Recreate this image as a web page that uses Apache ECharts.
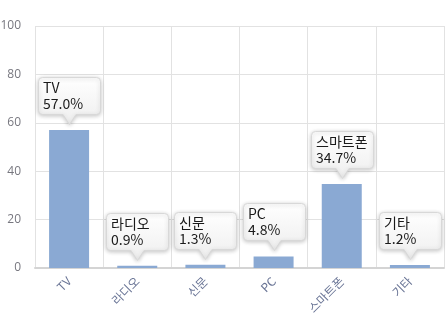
<!DOCTYPE html>
<html><head><meta charset="utf-8">
<script src="https://cdn.jsdelivr.net/npm/echarts@6/dist/echarts.min.js"></script>
<style>html,body{margin:0;padding:0;background:#fff}#c{width:448px;height:318px}</style>
</head><body><div id="c"></div>
<script>
const categories = ['TV', '라디오', '신문', 'PC', '스마트폰', '기타'];
const values = [57.0, 0.9, 1.3, 4.8, 34.7, 1.2];
const yTicks = [0, 20, 40, 60, 80, 100];

const chart = echarts.init(document.getElementById('c'), null, {renderer: 'canvas'});
const BOX_W = 62, BOX_H = 37, ARROW_H = 10, ARROW_W = 13, GAP = 6, R = 4;

function calloutPath(cx, tipY) {
  const bottom = tipY - ARROW_H;
  const top = bottom - BOX_H;
  const l = cx - BOX_W / 2, r = cx + BOX_W / 2;
  const aw = ARROW_W / 2;
  return 'M' + (l + R) + ' ' + top +
    ' L' + (r - R) + ' ' + top +
    ' Q' + r + ' ' + top + ' ' + r + ' ' + (top + R) +
    ' L' + r + ' ' + (bottom - R) +
    ' Q' + r + ' ' + bottom + ' ' + (r - R) + ' ' + bottom +
    ' L' + (cx + aw) + ' ' + bottom +
    ' L' + cx + ' ' + tipY +
    ' L' + (cx - aw) + ' ' + bottom +
    ' L' + (l + R) + ' ' + bottom +
    ' Q' + l + ' ' + bottom + ' ' + l + ' ' + (bottom - R) +
    ' L' + l + ' ' + (top + R) +
    ' Q' + l + ' ' + top + ' ' + (l + R) + ' ' + top + ' Z';
}

chart.setOption({
  animation: false,
  grid: {left: 35, right: 4, top: 26, bottom: 50, outerBoundsMode: 'none', containLabel: false},
  xAxis: {
    type: 'category',
    data: categories,
    axisTick: {show: false},
    axisLine: {lineStyle: {color: '#d4d4d4', width: 2}},
    splitLine: {show: true, lineStyle: {color: '#e2e2e2'}},
    axisLabel: {rotate: 45, color: '#6a7596', fontSize: 12, margin: 11, fontFamily: 'Noto Sans CJK KR'}
  },
  yAxis: {
    type: 'value',
    min: yTicks[0], max: yTicks[yTicks.length - 1], interval: 20,
    axisLine: {show: false},
    axisTick: {show: false},
    splitLine: {lineStyle: {color: '#e2e2e2'}},
    axisLabel: {color: '#77777f', fontSize: 12, margin: 14, fontFamily: 'Open Sans'}
  },
  series: [
    {
      type: 'bar',
      data: values,
      barWidth: 40,
      itemStyle: {color: '#8aa9d3'}
    },
    {
      type: 'custom',
      data: values.map((v, i) => [i, v]),
      z: 10,
      renderItem: function (params, api) {
        const idx = api.value(0);
        const p = api.coord([idx, api.value(1)]);
        const cx = Math.round(p[0]);
        const tipY = Math.round(p[1]) - GAP;
        const top = tipY - ARROW_H - BOX_H;
        const l = cx - BOX_W / 2;
        return {
          type: 'group',
          children: [
            {
              type: 'path',
              shape: {pathData: calloutPath(cx + 0.5, tipY + 0.5)},
              style: {
                fill: new echarts.graphic.LinearGradient(0, 0, 0, 1, [
                  {offset: 0, color: '#ffffff'}, {offset: 1, color: '#eeeeee'}
                ]),
                stroke: '#d8d8d8',
                lineWidth: 1,
                shadowBlur: 4,
                shadowOffsetY: 1,
                shadowColor: 'rgba(0,0,0,0.22)'
              }
            },
            {
              type: 'text',
              style: {
                text: categories[idx] + '\n' + api.value(1).toFixed(1) + '%',
                x: l + 5,
                y: top + 3,
                fill: '#1a1a1a',
                fontSize: 14,
                fontFamily: 'Noto Sans CJK KR',
                lineHeight: 16,
                verticalAlign: 'top'
              }
            }
          ]
        };
      }
    }
  ]
});
</script></body></html>
